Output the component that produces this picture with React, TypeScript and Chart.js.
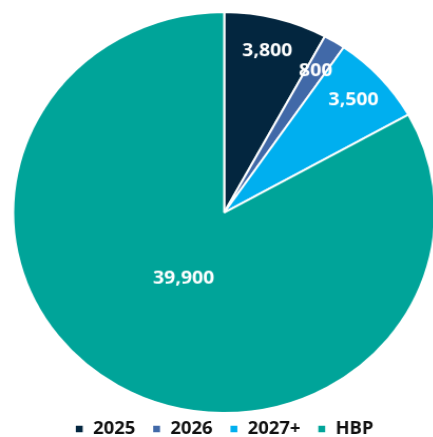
import React, { useEffect, useRef } from "react";
import { Chart, registerables } from "chart.js";

Chart.register(...registerables);

const categories = ["2025", "2026", "2027+", "HBP"];
const values = [3800, 800, 3500, 39900];
const colors = ["#03263f", "#4169a8", "#00afef", "#00a499"];

const labelPlugin = {
  id: "sliceLabels",
  afterDatasetsDraw(chart: any) {
    const ctx = chart.ctx;
    const meta = chart.getDatasetMeta(0);
    const data = chart.data.datasets[0].data as number[];
    const total = data.reduce((a, b) => a + b, 0);
    ctx.save();
    ctx.fillStyle = "#ffffff";
    ctx.font = "bold 18.5px 'Open Sans', sans-serif";
    ctx.textAlign = "center";
    ctx.textBaseline = "middle";
    meta.data.forEach((arc: any, i: number) => {
      const { x, y, startAngle, endAngle, outerRadius } = arc.getProps(
        ["x", "y", "startAngle", "endAngle", "outerRadius"],
        true
      );
      const mid = (startAngle + endAngle) / 2;
      const f = data[i] / total > 0.5 ? 0.38 : 0.83;
      const r = outerRadius * f;
      ctx.fillText(
        data[i].toLocaleString("en-US"),
        x + Math.cos(mid) * r,
        y + Math.sin(mid) * r
      );
    });
    ctx.restore();
  },
};

export default function App() {
  const ref = useRef<HTMLCanvasElement>(null);
  useEffect(() => {
    if (!ref.current) return;
    const chart = new Chart(ref.current, {
      type: "pie",
      data: {
        labels: categories,
        datasets: [
          {
            data: values,
            backgroundColor: colors,
            borderColor: "#ffffff",
            borderWidth: 2,
            clip: false as any,
          },
        ],
      },
      options: {
        responsive: true,
        maintainAspectRatio: false,
        animation: false,
        radius: 200,
        layout: { padding: { top: 20.75, bottom: 0, left: 0, right: 0 } },
        plugins: {
          tooltip: { enabled: false },
          legend: {
            position: "bottom",
            labels: {
              boxWidth: 8.5,
              boxHeight: 8.5,
              padding: 16,
              color: "#111111",
              font: { family: "'Open Sans', sans-serif", size: 17.5, weight: "bold" },
            },
          },
        },
      } as any,
      plugins: [labelPlugin],
    });
    return () => chart.destroy();
  }, []);
  return (
    <div
      style={{
        position: "fixed",
        left: 0,
        top: 0,
        width: 433,
        height: 437,
        overflow: "hidden",
        background: "#fff",
      }}
    >
      <div
        style={{
          position: "absolute",
          left: 0,
          top: 0,
          width: 425,
          height: 446.75,
          transform: "scaleX(1.055)",
          transformOrigin: "0 0",
        }}
      >
        <canvas ref={ref} />
      </div>
    </div>
  );
}
